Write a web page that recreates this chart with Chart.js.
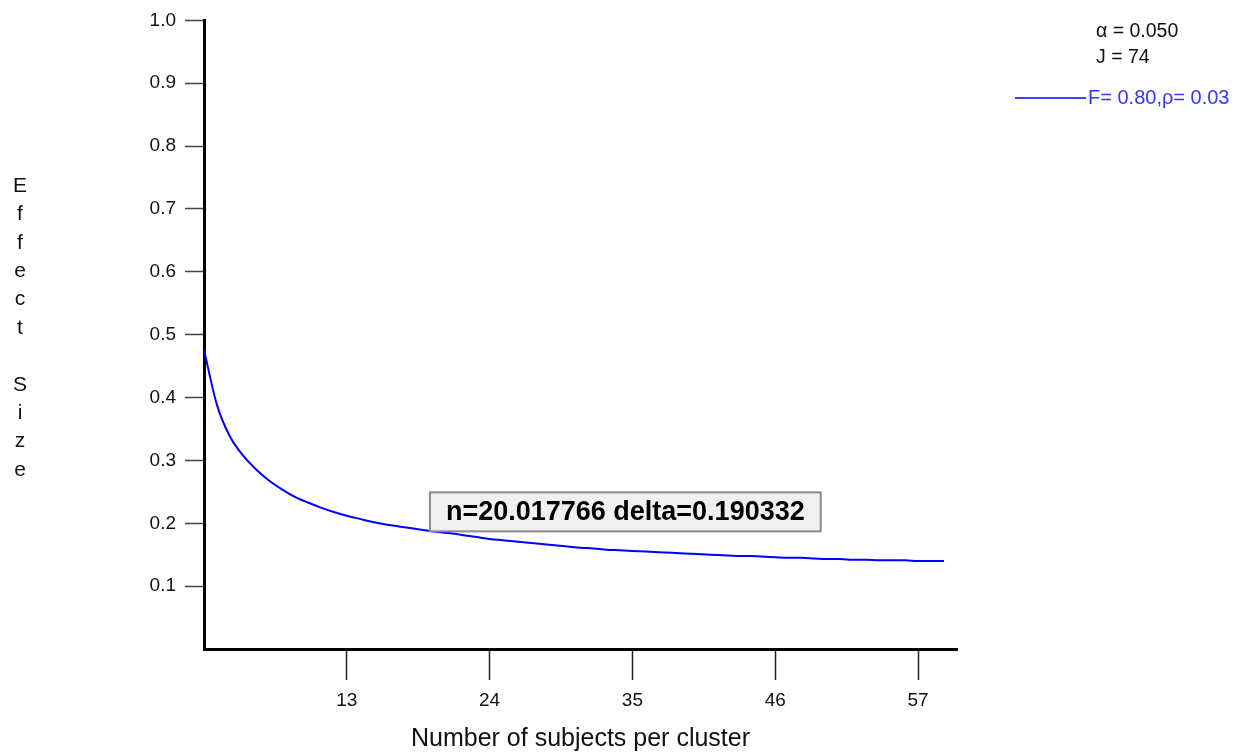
<!DOCTYPE html>
<html><head><meta charset="utf-8">
<script src="https://cdn.jsdelivr.net/npm/chart.js@4/dist/chart.umd.min.js"></script>
<style>html,body{margin:0;padding:0;background:#fff;overflow:hidden}#wrap{position:relative;width:1243px;height:752px}</style>
</head><body><div id="wrap"><canvas id="c" width="1243" height="752"></canvas></div>
<script>
// ---- data ----
const nValues = [2,3,4,5,6,7,8,9,10,11,12,13,14,15,16,17,18,19,20,21,22,23,24,25,26,27,28,29,30,31,32,33,34,35,36,37,38,39,40,41,42,43,44,45,46,47,48,49,50,51,52,53,54,55,56,57,58,59];
const deltaValues = [0.476,0.388,0.338,0.308,0.286,0.268,0.254,0.242,0.233,0.225,0.218,0.212,0.207,0.202,0.198,0.195,0.192,0.189,0.186,0.184,0.181,0.178,0.175,0.173,0.171,0.169,0.167,0.165,0.163,0.161,0.160,0.158,0.157,0.156,0.155,0.154,0.153,0.152,0.151,0.150,0.149,0.148,0.148,0.147,0.146,0.145,0.145,0.144,0.143,0.143,0.142,0.142,0.141,0.141,0.141,0.140,0.140,0.140];
const xTickValues = [13,24,35,46,57];
const yTickValues = [0.1,0.2,0.3,0.4,0.5,0.6,0.7,0.8,0.9,1.0];
const xRange = [2,60];
const yRange = [0,1];
const seriesLabel = 'F= 0.80,\u03C1= 0.03';
const infoLines = ['\u03B1 = 0.050','J = 74'];
const yTitle = 'Effect Size';
const xTitle = 'Number of subjects per cluster';
const annotationN = [20.017766];
const annotationDelta = [0.190332];
const annotationText = ['n=20.017766 delta=0.190332'];

const FONT = "'Liberation Sans', Arial, sans-serif";
const BLUE = '#0000ff';

const extras = {
  id: 'extras',
  afterDraw(chart) {
    const ctx = chart.ctx;
    const xs = chart.scales.x, ys = chart.scales.y;
    ctx.save();
    // stacked y title
    ctx.fillStyle = '#111';
    ctx.font = '21px ' + FONT;
    ctx.textAlign = 'center';
    ctx.textBaseline = 'middle';
    const letters = yTitle.split('');
    letters.forEach((ch, i) => { if (ch !== ' ') ctx.fillText(ch, 20, 186 + i * 28.4); });
    // info lines
    ctx.textAlign = 'left';
    ctx.font = '19.5px ' + FONT;
    ctx.fillStyle = '#111';
    infoLines.forEach((t, i) => ctx.fillText(t, 1096, 32 + i * 26));
    // legend
    ctx.strokeStyle = BLUE;
    ctx.lineWidth = 1.5;
    ctx.beginPath(); ctx.moveTo(1015, 98); ctx.lineTo(1086, 98); ctx.stroke();
    ctx.fillStyle = '#3535ff';
    ctx.font = '20px ' + FONT;
    ctx.fillText(seriesLabel, 1088, 98);
    // annotation box
    const px = xs.getPixelForValue(annotationN[0]);
    const py = ys.getPixelForValue(annotationDelta[0]);
    ctx.font = 'bold 27px ' + FONT;
    const tw = ctx.measureText(annotationText[0]).width;
    const bx = px - 8, bw = tw + 32, bh = 39, by = py + 2 - bh;
    ctx.fillStyle = '#f0f0f0';
    ctx.fillRect(bx, by, bw, bh);
    ctx.strokeStyle = '#8a8a8a';
    ctx.lineWidth = 2;
    ctx.strokeRect(bx, by, bw, bh);
    ctx.fillStyle = '#000';
    ctx.textAlign = 'center';
    ctx.fillText(annotationText[0], bx + bw / 2, by + bh / 2 + 1);
    ctx.restore();
  }
};

new Chart(document.getElementById('c'), {
  type: 'line',
  data: {
    datasets: [{
      label: seriesLabel,
      data: nValues.map((n, i) => ({x: n, y: deltaValues[i]})),
      borderColor: BLUE,
      borderWidth: 2,
      pointRadius: 0,
      fill: false,
      cubicInterpolationMode: 'monotone'
    }]
  },
  options: {
    responsive: false,
    animation: false,
    devicePixelRatio: 1,
    layout: { padding: { left: 0, top: 19, right: 286, bottom: 0 } },
    plugins: { legend: { display: false }, tooltip: { enabled: false } },
    scales: {
      x: {
        type: 'linear', min: xRange[0], max: xRange[1],
        afterBuildTicks: s => { s.ticks = xTickValues.map(v => ({value: v})); },
        afterFit: s => { s.height = 103; },
        grid: { drawOnChartArea: false, drawTicks: true, tickLength: 31, tickColor: '#222', tickWidth: 1.5 },
        border: { display: true, color: '#000', width: 3 },
        ticks: { color: '#111', font: { family: FONT, size: 19 }, padding: 9, maxRotation: 0, autoSkip: false },
        title: { display: true, text: xTitle, color: '#111', font: { family: FONT, size: 25, lineHeight: 1 }, padding: { top: 0, bottom: 0 } }
      },
      y: {
        type: 'linear', min: yRange[0], max: yRange[1],
        afterBuildTicks: s => { s.ticks = yTickValues.map(v => ({value: v})); },
        afterFit: s => { s.width = 204; },
        grid: { drawOnChartArea: false, drawTicks: true, tickLength: 19, tickColor: '#444', tickWidth: 1.5 },
        border: { display: true, color: '#000', width: 3 },
        ticks: { color: '#111', font: { family: FONT, size: 19 }, padding: 9, autoSkip: false, callback: v => Number(v).toFixed(1) }
      }
    }
  },
  plugins: [extras]
});
</script></body></html>
